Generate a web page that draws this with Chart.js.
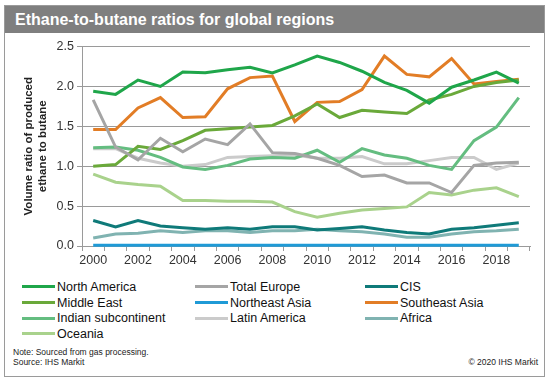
<!DOCTYPE html>
<html>
<head>
<meta charset="utf-8">
<script src="https://cdn.jsdelivr.net/npm/chart.js@4"></script>
<style>
    body { margin: 0; background: #fff; font-family: 'Liberation Sans', Arial, sans-serif; }
    #frame { position: absolute; left: 4px; top: 5px; width: 539px; height: 370px; border: 1px solid #9a9a9a; }
    #title-bar { position: absolute; left: 0; top: 0; width: 539px; height: 27px; background: #7f7f7f;
                 color: #fff; font-weight: bold; font-size: 16px; line-height: 28px; padding-left: 10px; box-sizing: border-box; }
    #chart-box { position: absolute; left: 0; top: 36px; width: 549px; height: 236px; }
    #legend { position: absolute; left: 22px; top: 279px; display: grid;
              grid-template-columns: 173px 170px 150px; grid-auto-rows: 15.7px; }
    .legend-item { display: flex; align-items: center; font-size: 12.5px; color: #111; white-space: nowrap; }
    .legend-line { width: 33px; height: 3px; margin-right: 2px; }
    .note { position: absolute; font-size: 8.5px; color: #222; }
</style>
</head>
<body>
<div id="frame">
    <div id="title-bar">Ethane-to-butane ratios for global regions</div>
</div>
<div id="chart-box"><canvas id="ratioChart"></canvas></div>
<div id="legend"></div>
<div class="note" style="left: 13px; top: 347px;">Note: Sourced from gas processing.</div>
<div class="note" style="left: 13px; top: 357px;">Source: IHS Markit</div>
<div class="note" style="right: 11px; top: 357px;">© 2020 IHS Markit</div>

<script>
const years = ['2000', '2001', '2002', '2003', '2004', '2005', '2006', '2007', '2008', '2009',
               '2010', '2011', '2012', '2013', '2014', '2015', '2016', '2017', '2018', '2019'];

const northAmerica  = [1.94, 1.90, 2.08, 2.00, 2.18, 2.17, 2.21, 2.24, 2.17, 2.27, 2.38, 2.30, 2.19, 2.05, 1.95, 1.79, 1.99, 2.08, 2.18, 2.04];
const totalEurope   = [1.83, 1.24, 1.08, 1.35, 1.18, 1.34, 1.27, 1.53, 1.17, 1.16, 1.10, 1.01, 0.87, 0.89, 0.79, 0.79, 0.67, 1.01, 1.04, 1.05];
const cis           = [0.32, 0.24, 0.32, 0.25, 0.23, 0.21, 0.23, 0.21, 0.24, 0.24, 0.20, 0.22, 0.24, 0.20, 0.17, 0.15, 0.21, 0.23, 0.26, 0.29];
const middleEast    = [1.00, 1.02, 1.25, 1.21, 1.32, 1.45, 1.47, 1.49, 1.51, 1.63, 1.78, 1.61, 1.70, 1.68, 1.66, 1.83, 1.90, 2.00, 2.05, 2.08];
const northeastAsia = [0.01, 0.01, 0.01, 0.01, 0.01, 0.01, 0.01, 0.01, 0.01, 0.01, 0.01, 0.01, 0.01, 0.01, 0.01, 0.01, 0.01, 0.01, 0.01, 0.01];
const southeastAsia = [1.46, 1.46, 1.73, 1.86, 1.61, 1.62, 1.97, 2.11, 2.13, 1.56, 1.80, 1.81, 1.96, 2.38, 2.15, 2.12, 2.35, 2.03, 2.06, 2.09];
const indianSub     = [1.23, 1.24, 1.20, 1.11, 0.99, 0.96, 1.01, 1.09, 1.11, 1.10, 1.20, 1.05, 1.22, 1.14, 1.10, 1.01, 0.96, 1.32, 1.49, 1.86];
const latinAmerica  = [1.22, 1.22, 1.10, 1.04, 1.00, 1.02, 1.11, 1.12, 1.13, 1.14, 1.10, 1.10, 1.12, 1.03, 1.03, 1.07, 1.11, 1.11, 0.96, 1.04];
const africa        = [0.10, 0.15, 0.16, 0.19, 0.17, 0.19, 0.19, 0.17, 0.19, 0.19, 0.21, 0.19, 0.18, 0.15, 0.11, 0.11, 0.15, 0.18, 0.19, 0.21];
const oceania       = [0.90, 0.80, 0.77, 0.75, 0.57, 0.57, 0.56, 0.56, 0.55, 0.43, 0.36, 0.41, 0.45, 0.47, 0.49, 0.67, 0.64, 0.70, 0.73, 0.62];

const yTicks = [0, 0.5, 1.0, 1.5, 2.0, 2.5];

// legend order is row by row, three columns
const series = [
    ['North America', northAmerica, '#1fa64a'],
    ['Total Europe', totalEurope, '#a5a5a5'],
    ['CIS', cis, '#0f7a79'],
    ['Middle East', middleEast, '#6aa93a'],
    ['Northeast Asia', northeastAsia, '#1f9ad6'],
    ['Southeast Asia', southeastAsia, '#e27d26'],
    ['Indian subcontinent', indianSub, '#64bd80'],
    ['Latin America', latinAmerica, '#cbcbcb'],
    ['Africa', africa, '#80b3b1'],
    ['Oceania', oceania, '#a9d28c']
];

const gridColor = '#9a9a9a';
const tickFont = { family: 'Liberation Sans', size: 12.5 };

const ctx = document.getElementById('ratioChart').getContext('2d');
const ratioChart = new Chart(ctx, {
    type: 'line',
    data: {
        labels: years,
        datasets: series.map(function(s) {
            return {
                label: s[0],
                data: s[1],
                borderColor: s[2],
                backgroundColor: s[2],
                borderWidth: 3,
                pointRadius: 0,
                tension: 0,
                clip: 4
            };
        })
    },
    options: {
        responsive: true,
        maintainAspectRatio: false,
        animation: false,
        layout: { padding: { top: 10, right: 19, left: 0, bottom: 0 } },
        plugins: {
            legend: { display: false },
            tooltip: { enabled: false }
        },
        scales: {
            x: {
                offset: true,
                grid: { display: true, drawOnChartArea: false, drawTicks: true, tickLength: 5, color: gridColor, offset: true },
                border: { display: true, color: gridColor },
                ticks: {
                    autoSkip: false,
                    maxRotation: 0,
                    color: '#333',
                    font: tickFont,
                    padding: 2,
                    callback: function(value, index) {
                        return index % 2 === 0 ? this.getLabelForValue(value) : '';
                    }
                },
                afterFit: function(scale) { scale.height = 26; }
            },
            y: {
                min: 0,
                max: 2.5,
                afterBuildTicks: function(scale) {
                    scale.ticks = yTicks.map(function(v) { return { value: v }; });
                },
                grid: { color: gridColor, tickLength: 5 },
                border: { display: true, color: gridColor },
                ticks: {
                    color: '#333',
                    font: tickFont,
                    padding: 3,
                    callback: function(value) { return value.toFixed(1); }
                },
                title: {
                    display: true,
                    text: ['Volume ratio of produced', 'ethane to butane'],
                    color: '#222',
                    font: { family: 'Liberation Sans', size: 11.5, weight: 'bold' },
                    padding: { top: 22, bottom: 0 }
                },
                afterFit: function(scale) { scale.width = 82; }
            }
        }
    }
});

// html legend in three columns, built from the chart's datasets
const legendBox = document.getElementById('legend');
ratioChart.data.datasets.forEach(function(ds) {
    const item = document.createElement('div');
    item.className = 'legend-item';

    const swatch = document.createElement('span');
    swatch.className = 'legend-line';
    swatch.style.background = ds.borderColor;

    const label = document.createElement('span');
    label.textContent = ds.label;

    item.appendChild(swatch);
    item.appendChild(label);
    legendBox.appendChild(item);
});
</script>
</body>
</html>
